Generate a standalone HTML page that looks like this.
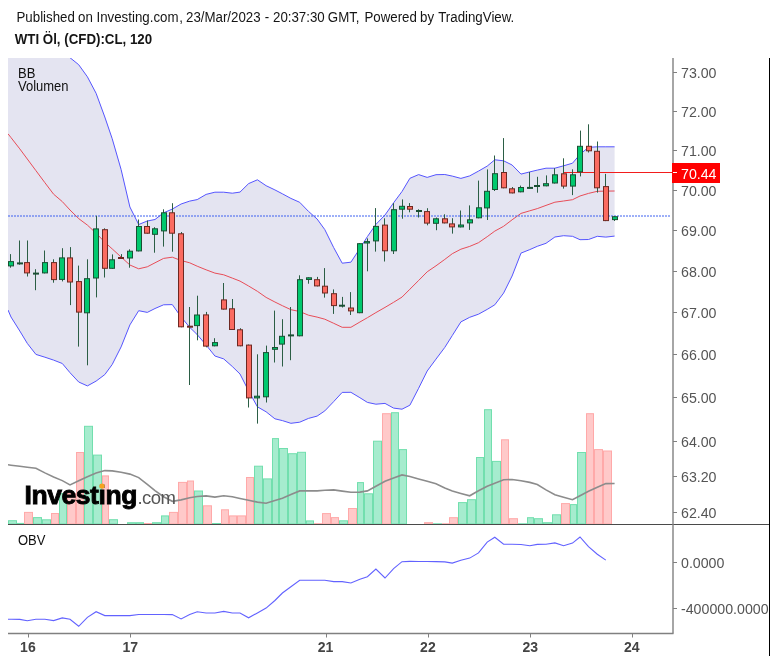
<!DOCTYPE html>
<html><head><meta charset="utf-8"><title>WTI Öl chart</title>
<style>
html,body{margin:0;padding:0;background:#fff;}
body{width:777px;height:662px;overflow:hidden;}
svg{display:block;}
.t{-webkit-font-smoothing:antialiased;}
svg text{will-change:transform;}
.t{font-family:"Liberation Sans",Arial,sans-serif;}
</style></head><body>
<svg width="777" height="662" viewBox="0 0 777 662">
<defs><clipPath id="pc"><rect x="8" y="58" width="664" height="466"/></clipPath><clipPath id="oc"><rect x="8" y="525" width="664" height="108"/></clipPath></defs>
<rect width="777" height="662" fill="#fff"/>
<text y="21.6" class="t" font-size="13.3" fill="#151515" transform="translate(0,21.6) scale(1,1.07) translate(0,-21.6)"><tspan x="16.50">Published</tspan> <tspan x="78.00">on</tspan> <tspan x="96.50">Investing.com</tspan> <tspan x="179.20">,</tspan> <tspan x="186.00">23/Mar/2023</tspan> <tspan x="264.80">-</tspan> <tspan x="273.00">20:37:30</tspan> <tspan x="327.80">GMT,</tspan> <tspan x="364.40">Powered</tspan> <tspan x="420.00">by</tspan> <tspan x="438.20">TradingView.</tspan></text>
<text y="44.4" class="t" font-size="13.3" font-weight="bold" fill="#151515" transform="translate(0,44.4) scale(1,1.07) translate(0,-44.4)"><tspan x="14.8">WTI Öl, (CFD):CL</tspan><tspan x="122.4">,</tspan> <tspan x="129.9">120</tspan></text>
<g clip-path="url(#pc)">
<polygon points="8.0,-100.0 11.0,-90.7 19.8,-63.5 27.3,-40.3 35.9,-13.6 44.9,14.2 53.6,36.0 62.3,50.3 70.0,57.7 78.7,64.7 87.4,76.8 96.1,93.3 104.8,117.0 112.2,138.7 121.1,169.5 129.9,207.0 138.7,224.5 147.3,221.0 155.0,219.5 163.6,212.8 172.3,209.1 181.1,204.0 189.7,201.1 197.2,199.6 206.1,194.4 214.9,192.2 223.7,192.2 232.3,193.2 240.0,192.1 248.6,183.6 257.4,179.8 266.1,185.7 274.9,189.9 282.4,193.8 290.9,198.4 299.7,202.3 308.5,211.4 317.1,219.0 324.8,229.6 333.7,247.6 342.2,263.2 350.9,262.2 359.9,248.5 367.4,236.6 375.9,224.4 385.0,215.0 393.6,202.8 402.0,191.5 409.9,178.3 418.6,174.6 427.2,177.4 436.0,174.7 444.8,174.5 452.3,176.1 460.9,178.4 469.7,175.9 478.5,171.1 487.2,166.1 494.8,159.8 503.6,160.8 512.1,165.0 521.0,174.1 529.8,171.9 537.3,170.1 546.0,168.2 554.9,168.2 563.6,165.8 572.5,163.2 580.0,154.4 588.5,147.3 597.3,146.8 605.8,146.8 614.6,146.8 614.6,236.1 605.8,237.1 597.3,236.3 588.5,239.5 580.0,239.7 572.5,236.3 563.6,235.7 554.9,237.0 546.0,243.3 537.3,246.3 529.8,249.6 521.0,253.1 512.1,276.0 503.6,293.1 494.8,304.8 487.2,309.4 478.5,314.2 469.7,317.3 460.9,321.9 452.3,335.5 444.8,347.4 436.0,359.1 427.2,371.0 418.6,388.3 409.9,405.2 402.0,409.2 393.6,408.1 385.0,403.4 375.9,404.2 367.4,402.4 359.9,397.7 350.9,392.3 342.2,392.4 333.7,401.6 324.8,410.9 317.1,416.1 308.5,418.4 299.7,422.2 290.9,423.3 282.4,420.6 274.9,418.8 266.1,411.8 257.4,406.8 248.6,390.9 240.0,374.0 232.3,366.5 223.7,358.9 214.9,356.0 206.1,345.0 197.2,334.6 189.7,327.3 181.1,317.0 172.3,304.6 163.6,304.8 155.0,308.5 147.3,312.4 138.7,310.7 129.9,324.9 121.1,346.9 112.2,364.5 104.8,374.6 96.1,381.1 87.4,385.9 78.7,382.0 70.0,372.7 62.3,363.5 53.6,360.1 44.9,357.2 35.9,354.4 27.3,343.4 19.8,331.0 11.0,317.0 8.0,310.0" fill="#e4e4f1"/>
<rect x="8.5" y="520.7" width="8.0" height="3.3" fill="#a6ecce" stroke="#72dfae" stroke-width="1"/>
<rect x="17.5" y="523.4" width="6.0" height="0.6" fill="#a6ecce" stroke="#72dfae" stroke-width="1"/>
<rect x="24.5" y="512.4" width="8.0" height="11.6" fill="#ffc9c9" stroke="#ffa9a9" stroke-width="1"/>
<rect x="33.5" y="517.6" width="8.0" height="6.4" fill="#a6ecce" stroke="#72dfae" stroke-width="1"/>
<rect x="42.5" y="519.8" width="8.0" height="4.2" fill="#a6ecce" stroke="#72dfae" stroke-width="1"/>
<rect x="51.5" y="513.5" width="7.0" height="10.5" fill="#ffc9c9" stroke="#ffa9a9" stroke-width="1"/>
<rect x="59.5" y="493.5" width="7.0" height="30.5" fill="#a6ecce" stroke="#72dfae" stroke-width="1"/>
<rect x="67.5" y="493.5" width="8.0" height="30.5" fill="#ffc9c9" stroke="#ffa9a9" stroke-width="1"/>
<rect x="76.5" y="452.5" width="7.0" height="71.5" fill="#ffc9c9" stroke="#ffa9a9" stroke-width="1"/>
<rect x="84.5" y="426.3" width="8.0" height="97.7" fill="#a6ecce" stroke="#72dfae" stroke-width="1"/>
<rect x="93.5" y="455.1" width="8.0" height="68.9" fill="#a6ecce" stroke="#72dfae" stroke-width="1"/>
<rect x="102.5" y="475.9" width="6.0" height="48.1" fill="#ffc9c9" stroke="#ffa9a9" stroke-width="1"/>
<rect x="109.5" y="519.7" width="8.0" height="4.3" fill="#a6ecce" stroke="#72dfae" stroke-width="1"/>
<rect x="127.5" y="522.7" width="8.0" height="1.3" fill="#a6ecce" stroke="#72dfae" stroke-width="1"/>
<rect x="136.5" y="522.7" width="7.0" height="1.3" fill="#a6ecce" stroke="#72dfae" stroke-width="1"/>
<rect x="144.5" y="523.5" width="7.0" height="0.5" fill="#ffc9c9" stroke="#ffa9a9" stroke-width="1"/>
<rect x="152.5" y="522.7" width="8.0" height="1.3" fill="#a6ecce" stroke="#72dfae" stroke-width="1"/>
<rect x="161.5" y="515.9" width="7.0" height="8.1" fill="#a6ecce" stroke="#72dfae" stroke-width="1"/>
<rect x="169.5" y="512.4" width="8.0" height="11.6" fill="#ffc9c9" stroke="#ffa9a9" stroke-width="1"/>
<rect x="178.5" y="482.4" width="8.0" height="41.6" fill="#ffc9c9" stroke="#ffa9a9" stroke-width="1"/>
<rect x="187.5" y="481.0" width="6.0" height="43.0" fill="#ffc9c9" stroke="#ffa9a9" stroke-width="1"/>
<rect x="194.5" y="491.0" width="8.0" height="33.0" fill="#a6ecce" stroke="#72dfae" stroke-width="1"/>
<rect x="203.5" y="505.8" width="8.0" height="18.2" fill="#ffc9c9" stroke="#ffa9a9" stroke-width="1"/>
<rect x="212.5" y="523.5" width="8.0" height="0.5" fill="#a6ecce" stroke="#72dfae" stroke-width="1"/>
<rect x="221.5" y="509.8" width="7.0" height="14.2" fill="#ffc9c9" stroke="#ffa9a9" stroke-width="1"/>
<rect x="229.5" y="515.9" width="7.0" height="8.1" fill="#ffc9c9" stroke="#ffa9a9" stroke-width="1"/>
<rect x="237.5" y="515.9" width="8.0" height="8.1" fill="#ffc9c9" stroke="#ffa9a9" stroke-width="1"/>
<rect x="246.5" y="477.5" width="7.0" height="46.5" fill="#ffc9c9" stroke="#ffa9a9" stroke-width="1"/>
<rect x="254.5" y="466.2" width="8.0" height="57.8" fill="#a6ecce" stroke="#72dfae" stroke-width="1"/>
<rect x="263.5" y="478.9" width="8.0" height="45.1" fill="#a6ecce" stroke="#72dfae" stroke-width="1"/>
<rect x="272.5" y="438.6" width="6.0" height="85.4" fill="#a6ecce" stroke="#72dfae" stroke-width="1"/>
<rect x="279.5" y="448.5" width="8.0" height="75.5" fill="#a6ecce" stroke="#72dfae" stroke-width="1"/>
<rect x="288.5" y="453.7" width="8.0" height="70.3" fill="#a6ecce" stroke="#72dfae" stroke-width="1"/>
<rect x="297.5" y="452.3" width="8.0" height="71.7" fill="#a6ecce" stroke="#72dfae" stroke-width="1"/>
<rect x="306.5" y="520.9" width="7.0" height="3.1" fill="#a6ecce" stroke="#72dfae" stroke-width="1"/>
<rect x="314.5" y="523.7" width="7.0" height="0.3" fill="#ffc9c9" stroke="#ffa9a9" stroke-width="1"/>
<rect x="322.5" y="513.6" width="8.0" height="10.4" fill="#ffc9c9" stroke="#ffa9a9" stroke-width="1"/>
<rect x="331.5" y="517.6" width="7.0" height="6.4" fill="#ffc9c9" stroke="#ffa9a9" stroke-width="1"/>
<rect x="339.5" y="520.8" width="8.0" height="3.2" fill="#a6ecce" stroke="#72dfae" stroke-width="1"/>
<rect x="348.5" y="508.5" width="8.0" height="15.5" fill="#ffc9c9" stroke="#ffa9a9" stroke-width="1"/>
<rect x="357.5" y="482.6" width="6.0" height="41.4" fill="#a6ecce" stroke="#72dfae" stroke-width="1"/>
<rect x="364.5" y="493.8" width="8.0" height="30.2" fill="#a6ecce" stroke="#72dfae" stroke-width="1"/>
<rect x="373.5" y="441.2" width="8.0" height="82.8" fill="#a6ecce" stroke="#72dfae" stroke-width="1"/>
<rect x="382.5" y="413.7" width="8.0" height="110.3" fill="#ffc9c9" stroke="#ffa9a9" stroke-width="1"/>
<rect x="391.5" y="412.7" width="7.0" height="111.3" fill="#a6ecce" stroke="#72dfae" stroke-width="1"/>
<rect x="399.5" y="449.6" width="7.0" height="74.4" fill="#a6ecce" stroke="#72dfae" stroke-width="1"/>
<rect x="424.5" y="522.7" width="8.0" height="1.3" fill="#ffc9c9" stroke="#ffa9a9" stroke-width="1"/>
<rect x="433.5" y="523.8" width="8.0" height="0.3" fill="#a6ecce" stroke="#72dfae" stroke-width="1"/>
<rect x="442.5" y="523.8" width="6.0" height="0.3" fill="#ffc9c9" stroke="#ffa9a9" stroke-width="1"/>
<rect x="449.5" y="517.7" width="8.0" height="6.3" fill="#ffc9c9" stroke="#ffa9a9" stroke-width="1"/>
<rect x="458.5" y="502.6" width="8.0" height="21.4" fill="#a6ecce" stroke="#72dfae" stroke-width="1"/>
<rect x="467.5" y="499.7" width="8.0" height="24.3" fill="#a6ecce" stroke="#72dfae" stroke-width="1"/>
<rect x="476.5" y="457.5" width="7.0" height="66.5" fill="#a6ecce" stroke="#72dfae" stroke-width="1"/>
<rect x="484.5" y="409.7" width="7.0" height="114.3" fill="#a6ecce" stroke="#72dfae" stroke-width="1"/>
<rect x="492.5" y="461.4" width="8.0" height="62.6" fill="#a6ecce" stroke="#72dfae" stroke-width="1"/>
<rect x="501.5" y="439.8" width="7.0" height="84.2" fill="#ffc9c9" stroke="#ffa9a9" stroke-width="1"/>
<rect x="509.5" y="518.7" width="8.0" height="5.3" fill="#ffc9c9" stroke="#ffa9a9" stroke-width="1"/>
<rect x="518.5" y="523.8" width="8.0" height="0.3" fill="#a6ecce" stroke="#72dfae" stroke-width="1"/>
<rect x="527.5" y="517.7" width="6.0" height="6.3" fill="#a6ecce" stroke="#72dfae" stroke-width="1"/>
<rect x="534.5" y="518.7" width="8.0" height="5.3" fill="#a6ecce" stroke="#72dfae" stroke-width="1"/>
<rect x="543.5" y="522.7" width="8.0" height="1.3" fill="#a6ecce" stroke="#72dfae" stroke-width="1"/>
<rect x="552.5" y="514.8" width="8.0" height="9.2" fill="#a6ecce" stroke="#72dfae" stroke-width="1"/>
<rect x="561.5" y="503.6" width="8.0" height="20.4" fill="#ffc9c9" stroke="#ffa9a9" stroke-width="1"/>
<rect x="570.5" y="504.6" width="6.0" height="19.4" fill="#a6ecce" stroke="#72dfae" stroke-width="1"/>
<rect x="577.5" y="452.5" width="8.0" height="71.5" fill="#a6ecce" stroke="#72dfae" stroke-width="1"/>
<rect x="586.5" y="413.7" width="7.0" height="110.3" fill="#ffc9c9" stroke="#ffa9a9" stroke-width="1"/>
<rect x="594.5" y="449.6" width="8.0" height="74.4" fill="#ffc9c9" stroke="#ffa9a9" stroke-width="1"/>
<rect x="603.5" y="451.0" width="8.0" height="73.0" fill="#ffc9c9" stroke="#ffa9a9" stroke-width="1"/>
<polyline points="8.0,464.8 11.0,465.2 19.8,466.3 27.3,467.2 35.9,468.3 44.9,472.9 53.6,477.0 62.3,480.6 70.0,484.9 78.7,480.7 87.4,476.7 96.1,473.0 104.8,470.6 112.2,470.9 121.1,472.2 129.9,474.1 138.7,477.6 147.3,484.3 155.0,490.6 163.6,496.7 172.3,501.3 181.1,499.9 189.7,497.8 197.2,496.5 206.1,495.9 214.9,497.1 223.7,495.8 232.3,496.8 240.0,498.5 248.6,500.3 257.4,502.1 266.1,503.2 274.9,500.6 282.4,498.3 290.9,494.6 299.7,490.9 308.5,490.9 317.1,490.9 324.8,490.3 333.7,489.9 342.2,491.1 350.9,492.3 359.9,492.1 367.4,490.9 375.9,486.2 385.0,481.2 393.6,478.1 402.0,474.9 409.9,476.5 418.6,478.9 427.2,481.2 436.0,483.8 444.8,487.9 452.3,491.1 460.9,493.4 469.7,495.8 478.5,490.8 487.2,486.3 494.8,483.2 503.6,479.7 512.1,479.5 521.0,480.8 529.8,482.4 537.3,484.6 546.0,489.9 554.9,494.8 563.6,497.3 572.5,499.7 580.0,495.7 588.5,491.2 597.3,487.3 605.8,483.6 614.6,483.5" fill="none" stroke="#8c8c8c" stroke-width="1.6"/>
<polyline points="8.0,-100.0 11.0,-90.7 19.8,-63.5 27.3,-40.3 35.9,-13.6 44.9,14.2 53.6,36.0 62.3,50.3 70.0,57.7 78.7,64.7 87.4,76.8 96.1,93.3 104.8,117.0 112.2,138.7 121.1,169.5 129.9,207.0 138.7,224.5 147.3,221.0 155.0,219.5 163.6,212.8 172.3,209.1 181.1,204.0 189.7,201.1 197.2,199.6 206.1,194.4 214.9,192.2 223.7,192.2 232.3,193.2 240.0,192.1 248.6,183.6 257.4,179.8 266.1,185.7 274.9,189.9 282.4,193.8 290.9,198.4 299.7,202.3 308.5,211.4 317.1,219.0 324.8,229.6 333.7,247.6 342.2,263.2 350.9,262.2 359.9,248.5 367.4,236.6 375.9,224.4 385.0,215.0 393.6,202.8 402.0,191.5 409.9,178.3 418.6,174.6 427.2,177.4 436.0,174.7 444.8,174.5 452.3,176.1 460.9,178.4 469.7,175.9 478.5,171.1 487.2,166.1 494.8,159.8 503.6,160.8 512.1,165.0 521.0,174.1 529.8,171.9 537.3,170.1 546.0,168.2 554.9,168.2 563.6,165.8 572.5,163.2 580.0,154.4 588.5,147.3 597.3,146.8 605.8,146.8 614.6,146.8" fill="none" stroke="#5555ff" stroke-width="1"/>
<polyline points="8.0,310.0 11.0,317.0 19.8,331.0 27.3,343.4 35.9,354.4 44.9,357.2 53.6,360.1 62.3,363.5 70.0,372.7 78.7,382.0 87.4,385.9 96.1,381.1 104.8,374.6 112.2,364.5 121.1,346.9 129.9,324.9 138.7,310.7 147.3,312.4 155.0,308.5 163.6,304.8 172.3,304.6 181.1,317.0 189.7,327.3 197.2,334.6 206.1,345.0 214.9,356.0 223.7,358.9 232.3,366.5 240.0,374.0 248.6,390.9 257.4,406.8 266.1,411.8 274.9,418.8 282.4,420.6 290.9,423.3 299.7,422.2 308.5,418.4 317.1,416.1 324.8,410.9 333.7,401.6 342.2,392.4 350.9,392.3 359.9,397.7 367.4,402.4 375.9,404.2 385.0,403.4 393.6,408.1 402.0,409.2 409.9,405.2 418.6,388.3 427.2,371.0 436.0,359.1 444.8,347.4 452.3,335.5 460.9,321.9 469.7,317.3 478.5,314.2 487.2,309.4 494.8,304.8 503.6,293.1 512.1,276.0 521.0,253.1 529.8,249.6 537.3,246.3 546.0,243.3 554.9,237.0 563.6,235.7 572.5,236.3 580.0,239.7 588.5,239.5 597.3,236.3 605.8,237.1 614.6,236.1" fill="none" stroke="#5555ff" stroke-width="1"/>
<polyline points="8.0,133.8 11.0,137.6 19.8,148.9 27.3,159.0 35.9,170.6 44.9,182.7 53.6,194.2 62.3,201.6 70.0,210.0 78.7,218.6 87.4,225.1 96.1,233.2 104.8,242.2 112.2,248.9 121.1,257.0 129.9,265.0 138.7,268.8 147.3,266.8 155.0,262.8 163.6,258.4 172.3,257.2 181.1,260.5 189.7,262.8 197.2,266.2 206.1,269.8 214.9,273.1 223.7,274.8 232.3,278.1 240.0,281.1 248.6,286.0 257.4,291.3 266.1,297.4 274.9,302.0 282.4,305.7 290.9,309.7 299.7,311.5 308.5,315.2 317.1,317.1 324.8,319.2 333.7,323.3 342.2,327.3 350.9,327.3 359.9,322.0 367.4,317.7 375.9,312.6 385.0,307.4 393.6,302.3 402.0,297.1 409.9,289.2 418.6,280.5 427.2,271.8 436.0,265.8 444.8,259.4 452.3,253.7 460.9,249.2 469.7,246.4 478.5,242.7 487.2,236.7 494.8,231.1 503.6,226.3 512.1,219.8 521.0,213.4 529.8,210.8 537.3,208.6 546.0,205.4 554.9,202.2 563.6,201.0 572.5,199.7 580.0,196.0 588.5,193.4 597.3,191.3 605.8,191.1 614.6,191.0" fill="none" stroke="#e84d58" stroke-width="1"/>
<line x1="8" y1="216" x2="670" y2="216" stroke="#3c60f0" stroke-width="1" stroke-dasharray="2,1"/>
<line x1="564" y1="172.5" x2="672" y2="172.5" stroke="#f21d1d" stroke-width="1"/>
<rect x="10" y="254.1" width="1" height="13.6" fill="#2b5e45"/>
<rect x="8.5" y="261.6" width="5" height="4.3" fill="#00c86e" stroke="#1a4f33" stroke-width="1"/>
<rect x="19" y="240.5" width="1" height="24.2" fill="#2b5e45"/>
<rect x="17" y="262.4" width="6" height="2" fill="#1a4f33"/>
<rect x="27" y="240.5" width="1" height="36.0" fill="#2b5e45"/>
<rect x="24.5" y="262.6" width="5" height="10.3" fill="#fb6b61" stroke="#6e2822" stroke-width="1"/>
<rect x="35" y="269.2" width="1" height="21.0" fill="#2b5e45"/>
<rect x="33" y="272.6" width="6" height="2" fill="#1a4f33"/>
<rect x="44" y="250.5" width="1" height="22.9" fill="#2b5e45"/>
<rect x="42.5" y="262.6" width="5" height="10.3" fill="#00c86e" stroke="#1a4f33" stroke-width="1"/>
<rect x="53" y="259.3" width="1" height="23.4" fill="#2b5e45"/>
<rect x="51.5" y="262.6" width="5" height="17.0" fill="#fb6b61" stroke="#6e2822" stroke-width="1"/>
<rect x="62" y="248.2" width="1" height="33.2" fill="#2b5e45"/>
<rect x="59.5" y="257.9" width="5" height="21.5" fill="#00c86e" stroke="#1a4f33" stroke-width="1"/>
<rect x="70" y="247.1" width="1" height="58.0" fill="#2b5e45"/>
<rect x="67.5" y="257.9" width="5" height="24.1" fill="#fb6b61" stroke="#6e2822" stroke-width="1"/>
<rect x="78" y="265.6" width="1" height="81.0" fill="#2b5e45"/>
<rect x="76.5" y="281.6" width="5" height="30.5" fill="#fb6b61" stroke="#6e2822" stroke-width="1"/>
<rect x="87" y="259.3" width="1" height="106.0" fill="#2b5e45"/>
<rect x="84.5" y="278.7" width="5" height="34.1" fill="#00c86e" stroke="#1a4f33" stroke-width="1"/>
<rect x="96" y="215.8" width="1" height="81.6" fill="#2b5e45"/>
<rect x="93.5" y="228.9" width="5" height="49.1" fill="#00c86e" stroke="#1a4f33" stroke-width="1"/>
<rect x="104" y="228.3" width="1" height="49.2" fill="#2b5e45"/>
<rect x="102.5" y="229.7" width="5" height="38.6" fill="#fb6b61" stroke="#6e2822" stroke-width="1"/>
<rect x="112" y="254.4" width="1" height="14.4" fill="#2b5e45"/>
<rect x="109.5" y="259.8" width="5" height="8.5" fill="#00c86e" stroke="#1a4f33" stroke-width="1"/>
<rect x="121" y="254.1" width="1" height="4.8" fill="#2b5e45"/>
<rect x="118" y="257.0" width="6" height="2" fill="#6e2822"/>
<rect x="129" y="249.3" width="1" height="18.4" fill="#2b5e45"/>
<rect x="127.5" y="251.2" width="5" height="6.8" fill="#00c86e" stroke="#1a4f33" stroke-width="1"/>
<rect x="138" y="219.5" width="1" height="31.9" fill="#2b5e45"/>
<rect x="136.5" y="226.5" width="5" height="24.4" fill="#00c86e" stroke="#1a4f33" stroke-width="1"/>
<rect x="147" y="220.5" width="1" height="13.2" fill="#2b5e45"/>
<rect x="144.5" y="226.5" width="5" height="6.7" fill="#fb6b61" stroke="#6e2822" stroke-width="1"/>
<rect x="154" y="227.2" width="1" height="25.5" fill="#2b5e45"/>
<rect x="152.5" y="228.8" width="5" height="5.5" fill="#00c86e" stroke="#1a4f33" stroke-width="1"/>
<rect x="163" y="209.3" width="1" height="37.3" fill="#2b5e45"/>
<rect x="161.5" y="212.8" width="5" height="18.1" fill="#00c86e" stroke="#1a4f33" stroke-width="1"/>
<rect x="172" y="203.2" width="1" height="48.5" fill="#2b5e45"/>
<rect x="169.5" y="212.8" width="5" height="20.4" fill="#fb6b61" stroke="#6e2822" stroke-width="1"/>
<rect x="181" y="232.0" width="1" height="95.3" fill="#2b5e45"/>
<rect x="178.5" y="233.8" width="5" height="93.0" fill="#fb6b61" stroke="#6e2822" stroke-width="1"/>
<rect x="189" y="307.0" width="1" height="78.0" fill="#2b5e45"/>
<rect x="187" y="325.7" width="6" height="2" fill="#6e2822"/>
<rect x="197" y="295.7" width="1" height="44.6" fill="#2b5e45"/>
<rect x="194.5" y="315.0" width="5" height="10.6" fill="#00c86e" stroke="#1a4f33" stroke-width="1"/>
<rect x="206" y="311.9" width="1" height="35.4" fill="#2b5e45"/>
<rect x="203.5" y="314.9" width="5" height="31.2" fill="#fb6b61" stroke="#6e2822" stroke-width="1"/>
<rect x="214" y="338.2" width="1" height="8.1" fill="#2b5e45"/>
<rect x="212.5" y="342.6" width="5" height="3.2" fill="#00c86e" stroke="#1a4f33" stroke-width="1"/>
<rect x="223" y="283.0" width="1" height="26.6" fill="#2b5e45"/>
<rect x="221.5" y="299.9" width="5" height="9.2" fill="#fb6b61" stroke="#6e2822" stroke-width="1"/>
<rect x="232" y="299.0" width="1" height="31.0" fill="#2b5e45"/>
<rect x="229.5" y="308.8" width="5" height="20.7" fill="#fb6b61" stroke="#6e2822" stroke-width="1"/>
<rect x="240" y="328.2" width="1" height="18.1" fill="#2b5e45"/>
<rect x="237.5" y="329.8" width="5" height="16.0" fill="#fb6b61" stroke="#6e2822" stroke-width="1"/>
<rect x="248" y="344.5" width="1" height="63.0" fill="#2b5e45"/>
<rect x="246.5" y="345.1" width="5" height="52.8" fill="#fb6b61" stroke="#6e2822" stroke-width="1"/>
<rect x="257" y="354.3" width="1" height="69.3" fill="#2b5e45"/>
<rect x="254.5" y="396.2" width="5" height="1.7" fill="#00c86e" stroke="#1a4f33" stroke-width="1"/>
<rect x="266" y="345.6" width="1" height="56.9" fill="#2b5e45"/>
<rect x="263.5" y="352.6" width="5" height="44.2" fill="#00c86e" stroke="#1a4f33" stroke-width="1"/>
<rect x="274" y="310.6" width="1" height="51.9" fill="#2b5e45"/>
<rect x="272.5" y="347.5" width="5" height="1.8" fill="#00c86e" stroke="#1a4f33" stroke-width="1"/>
<rect x="282" y="319.2" width="1" height="47.3" fill="#2b5e45"/>
<rect x="279.5" y="336.3" width="5" height="7.8" fill="#00c86e" stroke="#1a4f33" stroke-width="1"/>
<rect x="290" y="307.0" width="1" height="53.2" fill="#2b5e45"/>
<rect x="288" y="334.4" width="6" height="2" fill="#1a4f33"/>
<rect x="299" y="275.3" width="1" height="61.0" fill="#2b5e45"/>
<rect x="297.5" y="279.7" width="5" height="56.1" fill="#00c86e" stroke="#1a4f33" stroke-width="1"/>
<rect x="308" y="277.3" width="1" height="6.4" fill="#2b5e45"/>
<rect x="306.5" y="277.8" width="5" height="1.7" fill="#00c86e" stroke="#1a4f33" stroke-width="1"/>
<rect x="317" y="276.9" width="1" height="9.5" fill="#2b5e45"/>
<rect x="314.5" y="279.7" width="5" height="6.2" fill="#fb6b61" stroke="#6e2822" stroke-width="1"/>
<rect x="324" y="268.1" width="1" height="29.5" fill="#2b5e45"/>
<rect x="322.5" y="286.2" width="5" height="6.8" fill="#fb6b61" stroke="#6e2822" stroke-width="1"/>
<rect x="333" y="289.4" width="1" height="24.5" fill="#2b5e45"/>
<rect x="331.5" y="293.7" width="5" height="11.9" fill="#fb6b61" stroke="#6e2822" stroke-width="1"/>
<rect x="342" y="296.9" width="1" height="10.6" fill="#2b5e45"/>
<rect x="339" y="304.7" width="6" height="2" fill="#1a4f33"/>
<rect x="350" y="292.1" width="1" height="22.9" fill="#2b5e45"/>
<rect x="348.5" y="308.0" width="5" height="2.9" fill="#fb6b61" stroke="#6e2822" stroke-width="1"/>
<rect x="359" y="243.2" width="1" height="70.0" fill="#2b5e45"/>
<rect x="357.5" y="243.7" width="5" height="69.0" fill="#00c86e" stroke="#1a4f33" stroke-width="1"/>
<rect x="367" y="238.4" width="1" height="32.9" fill="#2b5e45"/>
<rect x="364.5" y="241.6" width="5" height="1.4" fill="#00c86e" stroke="#1a4f33" stroke-width="1"/>
<rect x="375" y="208.1" width="1" height="43.5" fill="#2b5e45"/>
<rect x="373.5" y="226.4" width="5" height="14.5" fill="#00c86e" stroke="#1a4f33" stroke-width="1"/>
<rect x="384" y="218.3" width="1" height="43.2" fill="#2b5e45"/>
<rect x="382.5" y="225.1" width="5" height="25.7" fill="#fb6b61" stroke="#6e2822" stroke-width="1"/>
<rect x="393" y="203.1" width="1" height="50.9" fill="#2b5e45"/>
<rect x="391.5" y="209.7" width="5" height="41.1" fill="#00c86e" stroke="#1a4f33" stroke-width="1"/>
<rect x="402" y="199.4" width="1" height="19.3" fill="#2b5e45"/>
<rect x="399.5" y="206.3" width="5" height="2.9" fill="#00c86e" stroke="#1a4f33" stroke-width="1"/>
<rect x="409" y="203.1" width="1" height="9.2" fill="#2b5e45"/>
<rect x="407.5" y="206.5" width="5" height="2.7" fill="#fb6b61" stroke="#6e2822" stroke-width="1"/>
<rect x="418" y="209.3" width="1" height="8.2" fill="#2b5e45"/>
<rect x="416" y="210.0" width="6" height="2" fill="#1a4f33"/>
<rect x="427" y="208.2" width="1" height="17.1" fill="#2b5e45"/>
<rect x="424.5" y="211.6" width="5" height="11.5" fill="#fb6b61" stroke="#6e2822" stroke-width="1"/>
<rect x="436" y="217.5" width="1" height="12.7" fill="#2b5e45"/>
<rect x="433.5" y="218.8" width="5" height="4.5" fill="#00c86e" stroke="#1a4f33" stroke-width="1"/>
<rect x="444" y="214.3" width="1" height="9.1" fill="#2b5e45"/>
<rect x="442.5" y="218.8" width="5" height="4.1" fill="#fb6b61" stroke="#6e2822" stroke-width="1"/>
<rect x="452" y="218.2" width="1" height="15.4" fill="#2b5e45"/>
<rect x="449.5" y="223.9" width="5" height="3.0" fill="#fb6b61" stroke="#6e2822" stroke-width="1"/>
<rect x="460" y="210.5" width="1" height="16.9" fill="#2b5e45"/>
<rect x="458.5" y="225.0" width="5" height="1.9" fill="#00c86e" stroke="#1a4f33" stroke-width="1"/>
<rect x="469" y="205.4" width="1" height="24.5" fill="#2b5e45"/>
<rect x="467.5" y="219.8" width="5" height="3.1" fill="#00c86e" stroke="#1a4f33" stroke-width="1"/>
<rect x="478" y="180.6" width="1" height="37.7" fill="#2b5e45"/>
<rect x="476.5" y="207.8" width="5" height="10.0" fill="#00c86e" stroke="#1a4f33" stroke-width="1"/>
<rect x="487" y="169.4" width="1" height="50.6" fill="#2b5e45"/>
<rect x="484.5" y="191.3" width="5" height="16.6" fill="#00c86e" stroke="#1a4f33" stroke-width="1"/>
<rect x="494" y="155.5" width="1" height="35.5" fill="#2b5e45"/>
<rect x="492.5" y="173.7" width="5" height="15.8" fill="#00c86e" stroke="#1a4f33" stroke-width="1"/>
<rect x="503" y="138.1" width="1" height="50.2" fill="#2b5e45"/>
<rect x="501.5" y="172.5" width="5" height="15.3" fill="#fb6b61" stroke="#6e2822" stroke-width="1"/>
<rect x="512" y="187.0" width="1" height="6.4" fill="#2b5e45"/>
<rect x="509.5" y="188.8" width="5" height="4.1" fill="#fb6b61" stroke="#6e2822" stroke-width="1"/>
<rect x="520" y="185.6" width="1" height="6.7" fill="#2b5e45"/>
<rect x="518.5" y="187.5" width="5" height="4.3" fill="#00c86e" stroke="#1a4f33" stroke-width="1"/>
<rect x="529" y="172.0" width="1" height="16.6" fill="#2b5e45"/>
<rect x="527" y="186.9" width="6" height="2" fill="#1a4f33"/>
<rect x="537" y="176.8" width="1" height="15.9" fill="#2b5e45"/>
<rect x="534" y="185.0" width="6" height="2" fill="#1a4f33"/>
<rect x="546" y="175.4" width="1" height="10.9" fill="#2b5e45"/>
<rect x="543.5" y="183.7" width="5" height="2.1" fill="#00c86e" stroke="#1a4f33" stroke-width="1"/>
<rect x="554" y="168.2" width="1" height="15.3" fill="#2b5e45"/>
<rect x="552.5" y="174.8" width="5" height="8.2" fill="#00c86e" stroke="#1a4f33" stroke-width="1"/>
<rect x="563" y="158.3" width="1" height="30.3" fill="#2b5e45"/>
<rect x="561.5" y="173.8" width="5" height="12.3" fill="#fb6b61" stroke="#6e2822" stroke-width="1"/>
<rect x="572" y="169.3" width="1" height="25.8" fill="#2b5e45"/>
<rect x="570.5" y="174.8" width="5" height="11.3" fill="#00c86e" stroke="#1a4f33" stroke-width="1"/>
<rect x="580" y="130.6" width="1" height="45.8" fill="#2b5e45"/>
<rect x="577.5" y="146.3" width="5" height="25.5" fill="#00c86e" stroke="#1a4f33" stroke-width="1"/>
<rect x="588" y="124.3" width="1" height="28.2" fill="#2b5e45"/>
<rect x="586.5" y="146.3" width="5" height="4.5" fill="#fb6b61" stroke="#6e2822" stroke-width="1"/>
<rect x="597" y="141.5" width="1" height="51.1" fill="#2b5e45"/>
<rect x="594.5" y="151.3" width="5" height="36.5" fill="#fb6b61" stroke="#6e2822" stroke-width="1"/>
<rect x="605" y="173.9" width="1" height="47.2" fill="#2b5e45"/>
<rect x="603.5" y="186.6" width="5" height="34.0" fill="#fb6b61" stroke="#6e2822" stroke-width="1"/>
<rect x="614" y="216.2" width="1" height="4.8" fill="#2b5e45"/>
<rect x="612.5" y="216.7" width="5" height="2.9" fill="#00c86e" stroke="#1a4f33" stroke-width="1"/>
</g>
<text x="18" y="77.6" class="t" font-size="13" fill="#111" transform="translate(0,77.6) scale(1,1.07) translate(0,-77.6)">BB</text>
<text x="18" y="90.8" class="t" font-size="13" fill="#111" transform="translate(0,90.8) scale(1,1.07) translate(0,-90.8)">Volumen</text>
<text x="24.6" y="503.8" class="t" font-size="26.5" font-weight="bold" fill="#000" stroke="#000" stroke-width="0.9" letter-spacing="-0.45">Investing</text>
<text x="137.5" y="504" class="t" font-size="18.5" fill="#555" letter-spacing="-0.6">.com</text>
<circle cx="102" cy="486" r="2.6" fill="#f6a21e"/>
<g clip-path="url(#oc)">
<polyline points="8.0,619.3 11.0,619.3 19.8,619.4 27.3,620.7 35.9,619.3 44.9,619.3 53.6,620.6 62.3,617.9 70.0,619.3 78.7,626.3 87.4,617.4 96.1,611.7 104.8,615.6 112.2,615.6 121.1,615.6 129.9,615.6 138.7,614.5 147.3,614.5 155.0,614.5 163.6,614.5 172.3,614.6 181.1,619.0 189.7,614.6 197.2,611.7 206.1,613.0 214.9,613.0 223.7,611.4 232.3,613.0 240.0,613.0 248.6,617.8 257.4,612.9 266.1,608.1 274.9,600.5 282.4,593.0 290.9,586.8 299.7,580.3 308.5,580.2 317.1,580.2 324.8,580.3 333.7,581.6 342.2,581.6 350.9,583.0 359.9,579.2 367.4,576.7 375.9,569.0 385.0,578.0 393.6,568.7 402.0,561.7 409.9,561.4 418.6,561.5 427.2,561.5 436.0,561.6 444.8,561.9 452.3,563.1 460.9,560.3 469.7,558.1 478.5,552.9 487.2,542.1 494.8,537.2 503.6,544.2 512.1,544.3 521.0,544.5 529.8,545.7 537.3,544.4 546.0,544.3 554.9,542.9 563.6,545.7 572.5,543.1 580.0,537.0 588.5,546.7 597.3,554.2 605.8,560.1" fill="none" stroke="#6262ff" stroke-width="1.1"/>
</g>
<text x="18" y="545.4" class="t" font-size="13" fill="#111" transform="translate(0,545.4) scale(1,1.07) translate(0,-545.4)">OBV</text>
<line x1="8" y1="524.5" x2="769.5" y2="524.5" stroke="#4a4a4a" stroke-width="1"/>
<line x1="8" y1="633.5" x2="673.5" y2="633.5" stroke="#808080" stroke-width="1.4"/>
<line x1="673.0" y1="58" x2="673.0" y2="633.5" stroke="#808080" stroke-width="1.4"/>
<line x1="769.5" y1="58" x2="769.5" y2="656" stroke="#000" stroke-width="1"/>
<line x1="673.0" y1="72.5" x2="677.0" y2="72.5" stroke="#808080" stroke-width="1"/>
<text x="681" y="78.1" class="t" font-size="14.2" fill="#555">73.00</text>
<line x1="673.0" y1="111.5" x2="677.0" y2="111.5" stroke="#808080" stroke-width="1"/>
<text x="681" y="117.1" class="t" font-size="14.2" fill="#555">72.00</text>
<line x1="673.0" y1="150.5" x2="677.0" y2="150.5" stroke="#808080" stroke-width="1"/>
<text x="681" y="156.1" class="t" font-size="14.2" fill="#555">71.00</text>
<line x1="673.0" y1="190.5" x2="677.0" y2="190.5" stroke="#808080" stroke-width="1"/>
<text x="681" y="196.1" class="t" font-size="14.2" fill="#555">70.00</text>
<line x1="673.0" y1="230.5" x2="677.0" y2="230.5" stroke="#808080" stroke-width="1"/>
<text x="681" y="236.1" class="t" font-size="14.2" fill="#555">69.00</text>
<line x1="673.0" y1="271.5" x2="677.0" y2="271.5" stroke="#808080" stroke-width="1"/>
<text x="681" y="277.1" class="t" font-size="14.2" fill="#555">68.00</text>
<line x1="673.0" y1="312.5" x2="677.0" y2="312.5" stroke="#808080" stroke-width="1"/>
<text x="681" y="318.1" class="t" font-size="14.2" fill="#555">67.00</text>
<line x1="673.0" y1="354.5" x2="677.0" y2="354.5" stroke="#808080" stroke-width="1"/>
<text x="681" y="360.1" class="t" font-size="14.2" fill="#555">66.00</text>
<line x1="673.0" y1="397.5" x2="677.0" y2="397.5" stroke="#808080" stroke-width="1"/>
<text x="681" y="403.1" class="t" font-size="14.2" fill="#555">65.00</text>
<line x1="673.0" y1="441.5" x2="677.0" y2="441.5" stroke="#808080" stroke-width="1"/>
<text x="681" y="447.1" class="t" font-size="14.2" fill="#555">64.00</text>
<line x1="673.0" y1="476.5" x2="677.0" y2="476.5" stroke="#808080" stroke-width="1"/>
<text x="681" y="482.1" class="t" font-size="14.2" fill="#555">63.20</text>
<line x1="673.0" y1="512.5" x2="677.0" y2="512.5" stroke="#808080" stroke-width="1"/>
<text x="681" y="518.1" class="t" font-size="14.2" fill="#555">62.40</text>
<rect x="672" y="163" width="48" height="20" fill="#ff0000"/>
<line x1="673.0" y1="172.5" x2="677.0" y2="172.5" stroke="#fff" stroke-width="1"/>
<text x="681" y="178.6" class="t" font-size="14.2" fill="#fff">70.44</text>
<line x1="673.0" y1="562.5" x2="677.0" y2="562.5" stroke="#808080" stroke-width="1"/>
<text x="681" y="568.1" class="t" font-size="14.2" fill="#555">0.0000</text>
<line x1="673.0" y1="608.5" x2="677.0" y2="608.5" stroke="#808080" stroke-width="1"/>
<text x="681" y="614.1" class="t" font-size="14.2" fill="#555">-400000.0000</text>
<line x1="28.5" y1="633.5" x2="28.5" y2="637.5" stroke="#808080" stroke-width="1"/>
<text x="27.9" y="651.8" class="t" font-size="14" font-weight="bold" fill="#444" text-anchor="middle">16</text>
<line x1="130.5" y1="633.5" x2="130.5" y2="637.5" stroke="#808080" stroke-width="1"/>
<text x="130.2" y="651.8" class="t" font-size="14" font-weight="bold" fill="#444" text-anchor="middle">17</text>
<line x1="326.5" y1="633.5" x2="326.5" y2="637.5" stroke="#808080" stroke-width="1"/>
<text x="325.6" y="651.8" class="t" font-size="14" font-weight="bold" fill="#444" text-anchor="middle">21</text>
<line x1="428.5" y1="633.5" x2="428.5" y2="637.5" stroke="#808080" stroke-width="1"/>
<text x="427.9" y="651.8" class="t" font-size="14" font-weight="bold" fill="#444" text-anchor="middle">22</text>
<line x1="530.5" y1="633.5" x2="530.5" y2="637.5" stroke="#808080" stroke-width="1"/>
<text x="530.2" y="651.8" class="t" font-size="14" font-weight="bold" fill="#444" text-anchor="middle">23</text>
<line x1="632.5" y1="633.5" x2="632.5" y2="637.5" stroke="#808080" stroke-width="1"/>
<text x="631.7" y="651.8" class="t" font-size="14" font-weight="bold" fill="#444" text-anchor="middle">24</text>
</svg>
</body></html>
